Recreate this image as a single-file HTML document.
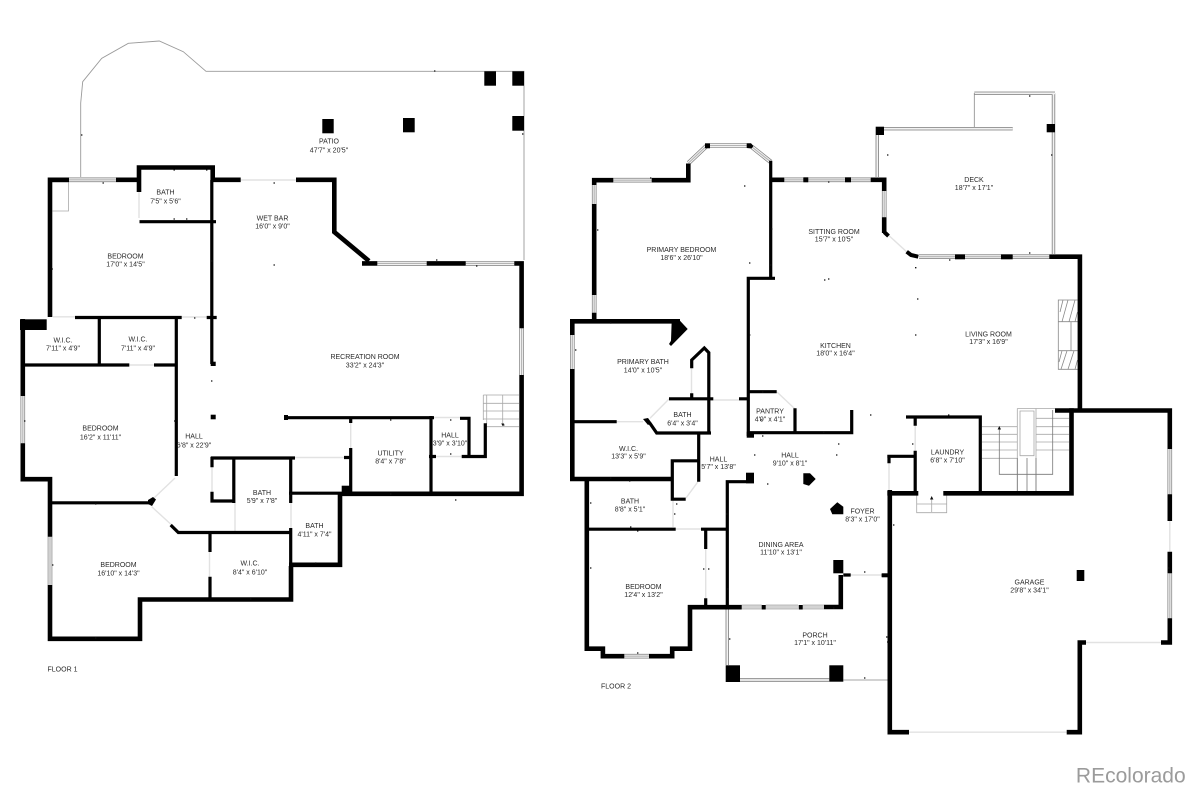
<!DOCTYPE html>
<html><head><meta charset="utf-8"><title>Floor plan</title>
<style>
html,body{margin:0;padding:0;background:#fff}
body{width:1191px;height:790px;overflow:hidden}
svg{display:block;filter:blur(.35px)}
text{font-family:"Liberation Sans",sans-serif;font-size:7px;fill:#2a2a2a;text-anchor:middle}
</style></head><body>
<svg width="1191" height="790" viewBox="0 0 1191 790" xmlns="http://www.w3.org/2000/svg">
<defs>
<path id="w" d="M69 179.8H116M377.3 263.4H426.7M465.7 263.4H514.3M521.6 328.3V375M22.8 396V443.3M50 536.7V585
M613.3 180.2H651.7M594.2 185V204M594.2 295V312.7M572.3 335V369M624.3 656.2H649M688.5 163L707 145.5M710 145.500H746.7M752 147L770.5 161.7
M784.3 179.8H803.3M808.3 179.8H845M851 179.8H870.7M884.2 191V217.3M919 256.7H955M965 256.7H1001M1012.7 256.7H1049.3
M741.7 607H761.7M765.7 607H798M802.7 607H824M1169.8 449V494.3M1169.8 573.3V618.3"/>
<path id="r" d="M884 128.7H1012.7M877.3 135V177M1053.5 93.3V254M974.3 93.3H1055M727.3 609V665M740 680H829.3"/>
</defs>

<!-- patio -->
<path d="M80.7 177V103L82.7 81.7L101.7 58.3L128.3 43.3L159.3 41L183.3 51.7L206 71.3H524V260" fill="none" stroke="#9a9a9a" stroke-width=".9"/>
<path d="M52 182H68.5V211H52.5" fill="none" stroke="#aaa" stroke-width=".8"/>
<!-- pale door openings -->
<path d="M240.7 180H296M139 192V218M53 316.8H75M181.7 317H207M129.3 365H154M154 498L175 478M151.7 506.7L171.7 525M616.7 421.7H643M669 399L650 418.3M713.3 400H739M691.5 368.3V393.3M777 392L795 409M686 498L698 481.7M675.7 529H701M705.7 549V598.3M673 500V527M888.3 235L908.3 253.3M850.7 575H881.7M889 463.3V490M915.2 425.7V450.7M1086 642.5H1161M909 732.2H1066.7M1169.8 521V551.7M350.7 423V448M212 467.3V491.7M235 503V531M291 503V528M215 459H289M295 457.5H344M434 417.5H460M434 456.5H461.7M209.5 552V576.7" fill="none" stroke="#e2e2e2" stroke-width="1.4"/>

<!-- windows -->
<g fill="none">
<use href="#w" stroke="#7d7d7d" stroke-width="4.6"/>
<use href="#w" stroke="#f2f2f2" stroke-width="3.2"/>
<use href="#w" stroke="#b4b4b4" stroke-width="1.1"/>
<use href="#r" stroke="#7d7d7d" stroke-width="3.4"/>
<use href="#r" stroke="#f2f2f2" stroke-width="1.8"/>
</g>
<path d="M974.3 93V127M843.3 680H888.3" fill="none" stroke="#888" stroke-width=".8"/>

<!-- stairs and fireplace -->
<g fill="none" stroke="#a8a8a8" stroke-width=".8">
<path d="M483.3 395H519M483.3 403.3H519M483.3 411H519M483.3 419H519M486 426.7H519M483.3 395V420M486.7 395V424M502.7 395V426"/>
<path d="M916.7 495V512.7H946.7V495M916.7 504H946.7M931.7 498V512"/>
<path d="M982 426.7H1017.3M982 434.3H1017.3M982 442H1017.3M982 450H1017.3M982 458.3H1017.3M1036 418.3H1069M1036 426.7H1069M1036 434.3H1069M1036 442H1069M1036 450H1069M1017.3 408.5H1055M1017.3 408.5V491M1036 408.5V491M1020 411H1034V455.7H1020Z"/>
</g>
<path d="M999.3 428V474.3H1052.7V410M1027 458V491M1017.3 458V491M1036 458V491" fill="none" stroke="#777" stroke-width=".8"/>
<path d="M999.3 426L1001 429.5H997.6ZM931.7 496L933.4 499.5H930ZM502.7 426L504.2 423.5H501.2Z" fill="#111"/>
<g fill="none" stroke="#888" stroke-width=".8">
<path d="M1077.7 300H1058.3V369.3H1077.7M1058.3 321.7H1077.7M1058.3 350.7H1077.7M1071 321.7V350.7H1077"/>
<path d="M1062 321.7L1068 300M1069 321.7L1075 300M1060 312L1063 300M1075 321.7L1077.5 312M1061 369.3L1067 350.7M1068 369.3L1074 350.7M1075 369.3L1077.5 360M1059 362L1062 350.7"/>
</g>

<!-- walls: floor 1 -->
<g fill="none" stroke="#000" stroke-width="4.6" stroke-miterlimit="10">
<path d="M69 179.8H50V317"/>
<path d="M116 179.8H139M139 192V167.5H212.7V180M213 179.8H240.7M296 179.8H334.3V232L369 261"/>
<path d="M362 263.4H377.3M426.7 263.4H465.7M514.3 263.4H521.6V328.3M521.6 375V493.8H342"/>
<path d="M22.8 319V396M22.8 443.3V479.2H50V536.7M50 585V638.8H140V599.5H291V566M340 493V564.8H289"/>
<!-- walls: floor 2 -->
<path d="M613.3 180.2H594.2V185M594.2 204V295M594.2 312.7V321M651.7 180.2H688.3V163.5"/>
<path d="M572.3 335V321.3H680M572.3 369V479H672"/>
<path d="M586.8 480V648.7H602.9V656.2H624.3M649 656.2H672.2V648.7H690V607.2H741.7"/>
<path d="M824 607H840.8V575"/>
<path d="M771.7 179.8H784.3M870.7 179.8H884.2V191M884.2 217.3V233"/>
<path d="M1049.3 256.7H1079.9V410M1055 410.5H1169.8V449M1169.8 494.3V521M1169.8 551.7V573.3M1169.8 618.3V642.5H1161"/>
<path d="M1086 642.5H1079.8V732.2H1066.7M909 732.2H889.8V490M1071.5 408.3V493.3H943.3M918.3 493.3H887.3"/>
</g>
<g fill="none" stroke="#000" stroke-width="3.2" stroke-miterlimit="10">
<path d="M139.5 221.7H216M211.8 180V364M75 317.5H181.7M206.7 317.5H216.7M99.3 317V366M176.3 317V476M22 365H129.3M154 365H177.5"/>
<path d="M50 502.8H150M170.7 525L178.3 532.5H291M210 532.7V552M210 576.7V598M212 456.7V467.3M212 491.7V501H235M233.8 458V503M211 458H295M290.7 458V503M290.7 528V566M344 457.5H352M350.7 419V423M350.7 448V493"/>
<path d="M284 417.7H434M431 416V493M429 456.5H436M460 418.3H469V456.5H461.7M469 456.5H485.3V423.3M289 493.2H352"/>
<path d="M770.7 160.7V276.7M775 278.3H748.3V436M748 391.7H776.7M748 432.7H851.7V410M795 408.3V431.7"/>
<path d="M691.7 368.3V360L704.3 348L708.8 352.7V433M691.7 393.3V400M669 398.8H713.3M739 398.8H748.3M573 421.7H616.7"/>
<path d="M650 423.3L656.7 433H711M698.7 433V481.7M697.3 460.8H672.3V499.2H685.7M588.3 529.2H675.7M701 529.2H727.3M705.7 530.7V549M705.7 598.3V605M727.3 607V481.7H754"/>
<path d="M906 417H980.3V492M915.2 417V425.7M915.2 450.7V491.7M887.3 456.3H915M889 456V463.3M843.3 575H850.7M881.7 575.3H888"/>
<path d="M884.2 232L888.5 236M906.7 251.7L911 255L918.3 256.7" stroke-width="4"/>
</g>
<!-- solid blocks -->
<g fill="#000">
<rect x="484.3" y="71.3" width="11.7" height="14.4"/><rect x="512.3" y="71.3" width="11.7" height="14.4"/>
<rect x="512.3" y="116" width="11.7" height="14.7"/><rect x="403" y="118" width="11.7" height="14.3"/><rect x="322.3" y="119" width="11.4" height="14.3"/>
<rect x="20" y="319.3" width="26.7" height="10.7"/>
<rect x="210.7" y="414.7" width="5" height="4.6"/><rect x="210.7" y="361.7" width="5" height="4.3"/><rect x="284" y="415" width="4" height="5"/><rect x="341.7" y="485.7" width="10.3" height="9.3"/>
<polygon points="148,500 153,497 156,499.500 152,506 148,504"/>
<polygon points="671.7,320.7 680,320.7 687.7,329 671,346 669,344 671,340.7"/>
<polygon points="643,419 648,418 651.7,423 648,425"/>
<rect x="746.7" y="431.7" width="7.3" height="6"/><rect x="746" y="472.7" width="8" height="10.6"/>
<polygon points="803.3,473.3 810,473.3 815.7,479 809,485.7 803.3,484"/>
<polygon points="830,509 837.3,502.3 843.3,506.7 843.3,514.3 832.3,514.3"/>
<rect x="705" y="143.3" width="5" height="5"/><polygon points="746.7,143.3 751,143.3 753.5,146 751.5,148.5 746.7,148"/>
<rect x="803.3" y="177.3" width="5" height="5"/><rect x="845" y="177.3" width="6" height="5"/>
<rect x="955" y="254.3" width="10" height="5"/><rect x="1001" y="254.3" width="11.7" height="5"/>
<rect x="761.7" y="605" width="4" height="4.5"/><rect x="798.7" y="605" width="4" height="4.5"/>
<rect x="875.7" y="126.7" width="8.3" height="8.3"/><rect x="1046.7" y="124" width="8.3" height="8.3"/>
<rect x="725.7" y="665.3" width="14.3" height="16.7"/><rect x="829.3" y="665.3" width="14" height="16.4"/>
<rect x="833.3" y="560" width="10" height="13.3"/><rect x="881.7" y="573.3" width="6" height="4"/>
<rect x="1076.7" y="570" width="7.6" height="11"/>
</g>
<!-- small markers -->
<path d="M81 135h1.4M102.5 183h1.4M173.5 170h1.4M206 170h1.4M173.5 219h1.4M186 219h1.4M51.500 269h1.400M211 261h1.400M273.500 183h1.400M273.500 265h1.400M194 318h1.400M436 260h1.400M476 266h1.400M434 71h1.400M522 134h1.400M24 421h1.400M174 421h1.400M95 504h1.400M52 565h1.400M250 599h1.400M95 638h1.400M211 381h1.400M455 500h1.400M390 494h1.400M390 420h1.400M450 420h1.400M450 454h1.400M503 425h1.400M318 494h1.400M315 563h1.400M234 494h1.400M290 494h1.400
M744 186h1.400M650 178h1.400M597 230h1.400M770 265h1.400M771 229h1.400M749 335h1.400M828 182h1.400M887 155h1.400M1051 155h1.400M1029 96h1.400M1029 253h1.400M949 260h1.400M915 267.700h1.400M917 299h1.400M915 335h1.400M824 280h1.400M828 279h1.400M870 415h1.400M575 350h1.400M610 323h1.400M610 478h1.400M629 481h1.400M590 503h1.400M590 568h1.400M637 653h1.400M703 569h1.400M727 589h1.400M729 639h1.400M726 514h1.400M676 504h1.400M674 514h1.400M630 527h1.400M637 531h1.400M708 569h1.400M887 642h1.400M864 678h1.400M833 608h1.400M864 572h1.400M760 420h1.400M762 392h1.400M762 436h1.400M823 432h1.400M754 455h1.400M838 444h1.400M836 455h1.400M767 484h1.400M912 444h1.400M948 415h1.400M893 525h1.400M886 637h1.400M1168 568h1.400M749 263h1.400" stroke="#111" stroke-width="1.3" fill="none"/>

<!-- labels: floor 1 -->
<text x="329" y="143.500">PATIO</text><text x="329" y="152.500">47'7" x 20'5"</text>
<text x="165.500" y="194.500">BATH</text><text x="165.500" y="203.500">7'5" x 5'6"</text>
<text x="272.500" y="220.500">WET BAR</text><text x="272.500" y="228.500">16'0" x 9'0"</text>
<text x="125.500" y="258.500">BEDROOM</text><text x="125.500" y="266.500">17'0" x 14'5"</text>
<text x="63" y="342.500">W.I.C.</text><text x="63" y="350.500">7'11" x 4'9"</text>
<text x="138" y="341.500">W.I.C.</text><text x="138" y="350.500">7'11" x 4'9"</text>
<text x="100.500" y="430.500">BEDROOM</text><text x="100.500" y="439.500">16'2" x 11'11"</text>
<text x="194" y="438.500">HALL</text><text x="194" y="447.500">6'8" x 22'9"</text>
<text x="262" y="495">BATH</text><text x="262" y="503">5'9" x 7'8"</text>
<text x="118.500" y="567">BEDROOM</text><text x="118.500" y="575.500">16'10" x 14'3"</text>
<text x="250" y="565.500">W.I.C.</text><text x="250" y="574.500">8'4" x 6'10"</text>
<text x="314.500" y="528">BATH</text><text x="314.500" y="536.500">4'11" x 7'4"</text>
<text x="390.500" y="455.500">UTILITY</text><text x="390.500" y="463.500">8'4" x 7'8"</text>
<text x="450" y="437.500">HALL</text><text x="450" y="445.500">3'9" x 3'10"</text>
<text x="365" y="359">RECREATION ROOM</text><text x="365" y="367.500">33'2" x 24'3"</text>
<text x="62.500" y="671.500">FLOOR 1</text>
<!-- labels: floor 2 -->
<text x="681.500" y="252">PRIMARY BEDROOM</text><text x="681.500" y="260">18'6" x 26'10"</text>
<text x="643" y="364">PRIMARY BATH</text><text x="643" y="372.500">14'0" x 10'5"</text>
<text x="682.500" y="417">BATH</text><text x="682.500" y="425.500">6'4" x 3'4"</text>
<text x="770" y="413.500">PANTRY</text><text x="770" y="421.500">4'9" x 4'1"</text>
<text x="628.500" y="451">W.I.C.</text><text x="628.500" y="458.500">13'3" x 5'9"</text>
<text x="718.500" y="461.500">HALL</text><text x="718.500" y="469">5'7" x 13'8"</text>
<text x="630" y="503.500">BATH</text><text x="630" y="511.500">8'8" x 5'1"</text>
<text x="643.500" y="589">BEDROOM</text><text x="643.500" y="597">12'4" x 13'2"</text>
<text x="790" y="457.500">HALL</text><text x="790" y="465.500">9'10" x 8'1"</text>
<text x="862.500" y="513.500">FOYER</text><text x="862.500" y="521.500">8'3" x 17'0"</text>
<text x="781" y="547">DINING AREA</text><text x="781" y="554.500">11'10" x 13'1"</text>
<text x="815" y="637.500">PORCH</text><text x="815" y="645">17'1" x 10'11"</text>
<text x="947.500" y="454.500">LAUNDRY</text><text x="947.500" y="462.500">6'8" x 7'10"</text>
<text x="1029.500" y="584.500">GARAGE</text><text x="1029.500" y="592.500">29'8" x 34'1"</text>
<text x="974" y="182">DECK</text><text x="974" y="190">18'7" x 17'1"</text>
<text x="834" y="234">SITTING ROOM</text><text x="834" y="241.500">15'7" x 10'5"</text>
<text x="835.500" y="348">KITCHEN</text><text x="835.500" y="355.500">18'0" x 16'4"</text>
<text x="988.500" y="336.500">LIVING ROOM</text><text x="988.500" y="344">17'3" x 16'9"</text>
<text x="616" y="688.500">FLOOR 2</text>
<text x="1130.800" y="782.700" style="font-size:21px;fill:#9b9b9b">REcolorado</text>
</svg>
</body></html>
